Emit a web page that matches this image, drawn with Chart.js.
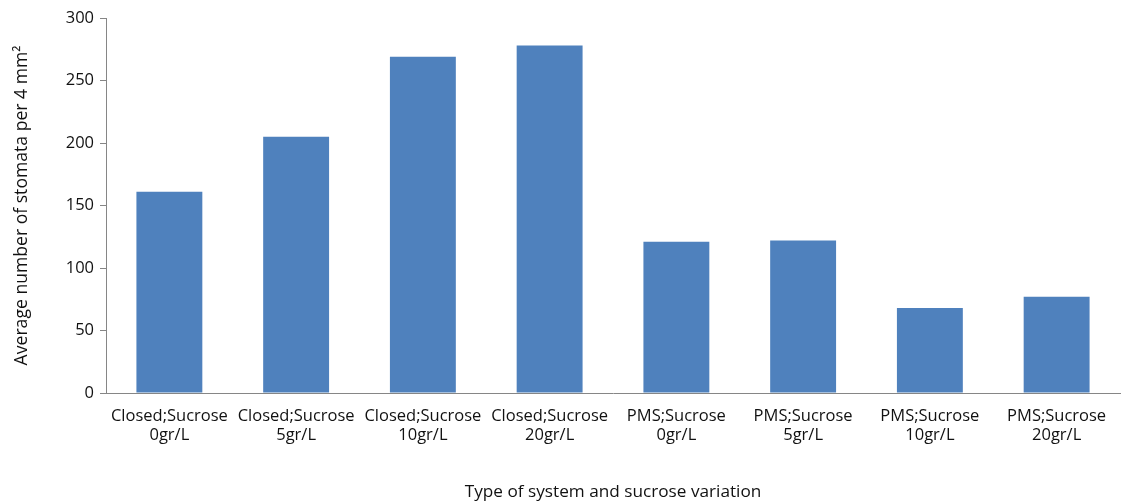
<!DOCTYPE html>
<html>
<head>
<meta charset="utf-8">
<script src="https://cdn.jsdelivr.net/npm/chart.js@4/dist/chart.umd.min.js"></script>
<style>
  html, body { margin: 0; padding: 0; background: #fff; }
  #wrap { width: 1122px; height: 502px; position: relative; }
</style>
</head>
<body>
<div id="wrap"><canvas id="c" width="1122" height="502"></canvas></div>
<script>
// Stomata counts per treatment (closed vessel vs PMS, sucrose levels)
const categories = [
  ['Closed;Sucrose', '0gr/L'],
  ['Closed;Sucrose', '5gr/L'],
  ['Closed;Sucrose', '10gr/L'],
  ['Closed;Sucrose', '20gr/L'],
  ['PMS;Sucrose', '0gr/L'],
  ['PMS;Sucrose', '5gr/L'],
  ['PMS;Sucrose', '10gr/L'],
  ['PMS;Sucrose', '20gr/L']
];
const stomataCounts = [161, 205, 269, 278, 121, 122, 68, 77];
const yTicks = [0, 50, 100, 150, 200, 250, 300];
const xTitle = 'Type of system and sucrose variation';
const yTitle = 'Average number of stomata per 4 mm\u00B2';

const FONT = "'Open Sans', 'Liberation Sans', sans-serif";

new Chart(document.getElementById('c'), {
  type: 'bar',
  data: {
    labels: categories,
    datasets: [{
      data: stomataCounts,
      backgroundColor: '#4F81BD',
      borderWidth: 0,
      barPercentage: 0.52,
      categoryPercentage: 1.0
    }]
  },
  options: {
    responsive: false,
    animation: false,
    layout: { padding: { top: 18, right: 2, left: 0, bottom: 0 } },
    plugins: { legend: { display: false }, tooltip: { enabled: false } },
    scales: {
      x: {
        grid: { display: false, drawTicks: false },
        border: { display: true, color: '#868686', width: 1 },
        ticks: {
          color: '#111',
          font: { family: FONT, size: 16.5 },
          padding: 13,
          maxRotation: 0,
          autoSkip: false,
          lineHeight: 1.2
        },
        title: {
          display: true,
          text: xTitle,
          color: '#111',
          font: { family: FONT, size: 17.2 },
          padding: { top: 24, bottom: 0 }
        },
        afterFit: (s) => { s.height = 109; }
      },
      y: {
        min: 0,
        max: 300,
        afterBuildTicks: (s) => { s.ticks = yTicks.map(v => ({ value: v })); },
        grid: { display: true, drawOnChartArea: false, drawTicks: true, tickLength: 6, color: '#868686' },
        border: { display: true, color: '#868686', width: 1 },
        ticks: {
          color: '#111',
          font: { family: FONT, size: 16.5 },
          padding: 6
        },
        title: {
          display: true,
          text: yTitle,
          color: '#111',
          font: { family: FONT, size: 17.6 },
          padding: { top: 11, bottom: 0 }
        },
        afterFit: (s) => { s.width = 106; }
      }
    }
  }
});
</script>
</body>
</html>
